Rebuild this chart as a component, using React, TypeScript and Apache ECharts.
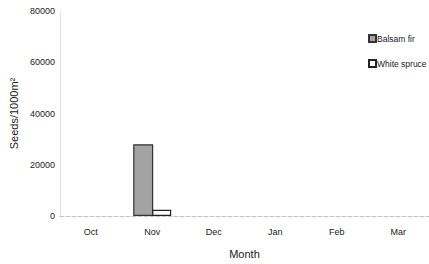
import React, { useEffect, useRef } from "react";
import * as echarts from "echarts";

const months = ["Oct", "Nov", "Dec", "Jan", "Feb", "Mar"];
const balsamFir = [0, 28000, 0, 0, 0, 0];
const whiteSpruce = [0, 2400, 0, 0, 0, 0];
const yTicks = [0, 20000, 40000, 60000, 80000];

const toData = (arr: number[]) =>
  arr.map((v) => (v === 0 ? { value: 0, itemStyle: { borderWidth: 0, opacity: 0 } } : v));

export default function App() {
  const ref = useRef<HTMLDivElement>(null);
  useEffect(() => {
    document.body.style.margin = "0";
    const chart = echarts.init(ref.current!, null, { renderer: "svg" });
    const font = "Liberation Sans, Arial, sans-serif";
    chart.setOption({
      animation: false,
      backgroundColor: "#ffffff",
      textStyle: { fontFamily: font },
      grid: { left: 55, top: 11, width: 389, bottom: 40, containLabel: false },
      legend: {
        orient: "vertical",
        left: 368,
        top: 34,
        padding: 0,
        itemWidth: 7,
        itemHeight: 7,
        itemGap: 16,
        icon: "rect",
        textStyle: { fontSize: 8.5, color: "#222", fontFamily: font, padding: [0, 0, 0, -4] },
        data: ["Balsam fir", "White spruce"],
      },
      xAxis: {
        type: "category",
        data: months,
        name: "Month",
        nameLocation: "middle",
        nameGap: 32,
        nameTextStyle: { fontSize: 11, color: "#222", fontFamily: font },
        axisLine: { show: true, lineStyle: { color: "#c4c4c4", type: "dashed", width: 1 } },
        axisTick: { show: false },
        axisLabel: { fontSize: 9, color: "#222", margin: 11 },
      },
      yAxis: {
        type: "value",
        min: 0,
        max: 80000,
        interval: 20000,
        name: "Seeds/1000m²",
        nameLocation: "middle",
        nameGap: 40,
        nameTextStyle: { fontSize: 11, color: "#222", fontFamily: font },
        axisLine: { show: true, lineStyle: { color: "#ddd", type: "dotted", width: 1 } },
        axisTick: { show: false },
        splitLine: { show: false },
        axisLabel: {
          fontSize: 9,
          color: "#222",
          margin: 5,
          formatter: (v: number) => (yTicks.includes(v) ? String(v) : ""),
        },
      },
      series: [
        {
          name: "Balsam fir",
          type: "bar",
          data: toData(balsamFir),
          barWidth: 20,
          barGap: "-5%",
          itemStyle: { color: "#a3a3a3", borderColor: "#333", borderWidth: 1.2 },
        },
        {
          name: "White spruce",
          type: "bar",
          data: toData(whiteSpruce),
          barWidth: 19,
          itemStyle: { color: "#ffffff", borderColor: "#222", borderWidth: 1.2 },
        },
      ],
    });
    return () => chart.dispose();
  }, []);
  return <div ref={ref} style={{ width: 429, height: 264 }} />;
}
